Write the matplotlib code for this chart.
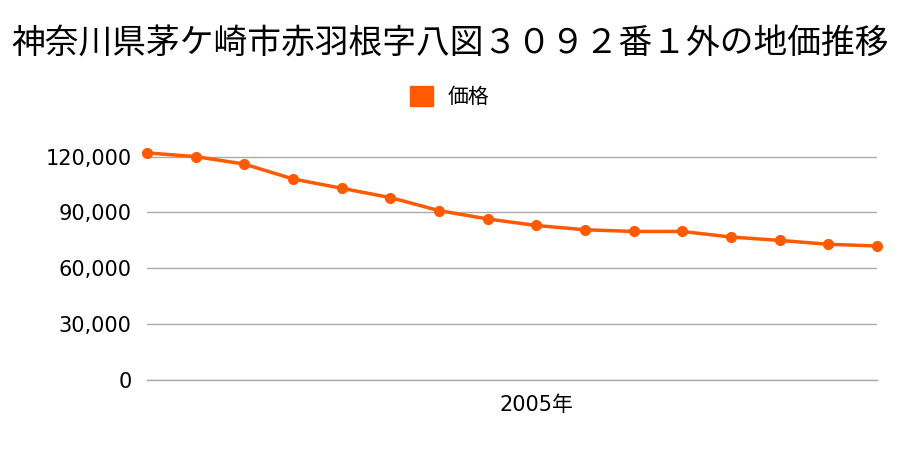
import matplotlib.pyplot as plt

plt.rcParams['font.family'] = ['Noto Sans CJK JP', 'DejaVu Sans']

years = list(range(1997, 2013))
prices = [122000, 120000, 116000, 108000, 103000, 98000, 91000, 86500,
          83000, 80700, 79800, 79800, 76800, 75000, 72900, 72000]
yticks = [0, 30000, 60000, 90000, 120000]
title = "神奈川県茅ケ崎市赤羽根字八図３０９２番１外の地価推移"

color = "#ff5a00"
tick_font = ['DejaVu Sans', 'Noto Sans CJK JP']

fig = plt.figure(figsize=(9, 4.5), dpi=100)
ax = fig.add_axes([147 / 900, 1 - 380 / 450, 730 / 900, 242 / 450])

ax.plot(years, prices, color=color, linewidth=2.5, marker="o", markersize=7,
        clip_on=False, zorder=3, label="価格")

ax.set_xlim(1997, 2012)
ax.set_ylim(0, 130000)
ax.set_yticks(yticks)
ax.set_yticklabels([f"{v:,}" for v in yticks], fontsize=15, family=tick_font)
ax.set_xticks([2005])
ax.set_xticklabels(["2005年"], fontsize=15, family=tick_font)
ax.tick_params(length=0)
ax.tick_params(axis="x", pad=11)
ax.tick_params(axis="y", pad=11)
ax.grid(axis="y", color="#aaaaaa", linewidth=1)
ax.axhline(0, color="#aaaaaa", linewidth=1, clip_on=False, zorder=1)
ax.set_axisbelow(True)
for s in ax.spines.values():
    s.set_visible(False)

fig.text(0.5, 1 - 43 / 450, title, ha="center", va="center", fontsize=24.3)
fig.legend(handles=[plt.Rectangle((0, 0), 1, 1, color=color)], labels=["価格"],
           loc="center", bbox_to_anchor=(0.5, 1 - 97 / 450), frameon=False,
           fontsize=15, handlelength=1.1, handleheight=1.1, handletextpad=0.7)

fig.savefig("out.png", dpi=100)
